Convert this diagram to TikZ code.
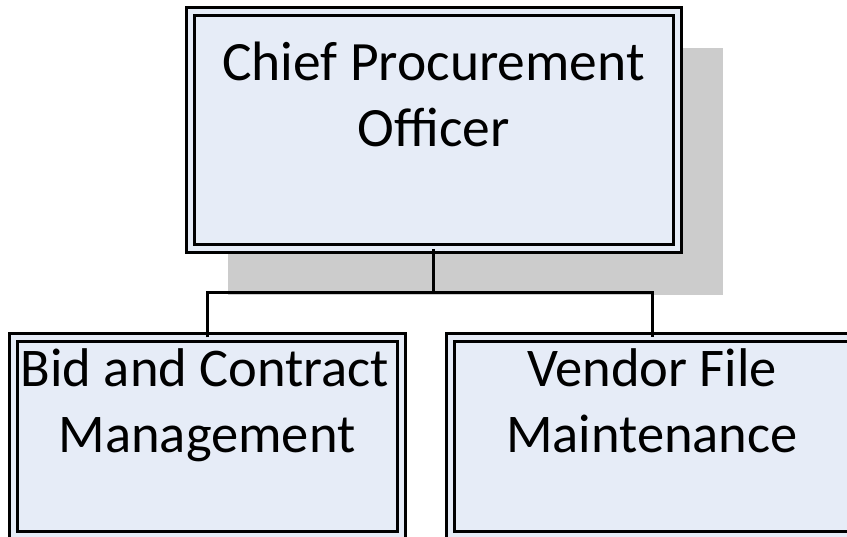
\documentclass[tikz,border=0pt]{standalone}
\usepackage{fontspec}
\setmainfont{Carlito}
\definecolor{boxfill}{RGB}{230,236,247}
\definecolor{shadowgray}{RGB}{204,204,204}
\begin{document}
\begin{tikzpicture}[x=1pt,y=-1pt,
  box/.style={draw=black, line width=3pt, double=boxfill, double distance=5pt, fill=boxfill, rectangle, inner sep=0pt, outer sep=0pt},
  conn/.style={draw=black, line width=3pt},
  lbl/.style={font=\fontsize{55.5}{66}\selectfont, anchor=base, inner sep=0pt},
  lblsm/.style={font=\fontsize{54.5}{66}\selectfont, anchor=base, inner sep=0pt}]
\useasboundingbox (0,0) rectangle (847,537);
\clip (0,0) rectangle (847,537);
\fill[shadowgray] (228,48) rectangle (723,295);
\node[box, minimum width=487pt, minimum height=237pt] (top) at (433.5,130.5) {};
\node[box, minimum width=387.5pt, minimum height=197.5pt] (left) at (207.25,436.25) {};
\node[box, minimum width=403pt, minimum height=197.5pt] (right) at (652,436.25) {};
\coordinate (bus) at (433.5,293);
\draw[conn] (top.south) -- (bus);
\draw[conn] (left.north) |- (bus) -| (right.north);
\node[lbl] (t1) at (433.5,81) {Chief Procurement};
\node[lbl] (t2) at (433.5,147) {Officer};
\node[lblsm] (l1) at (205,387) {Bid and Contract};
\node[lblsm] (l2) at (207,453) {Management};
\node[lblsm] (r1) at (652,387) {Vendor File};
\node[lblsm] (r2) at (652,453) {Maintenance};
\end{tikzpicture}
\end{document}
